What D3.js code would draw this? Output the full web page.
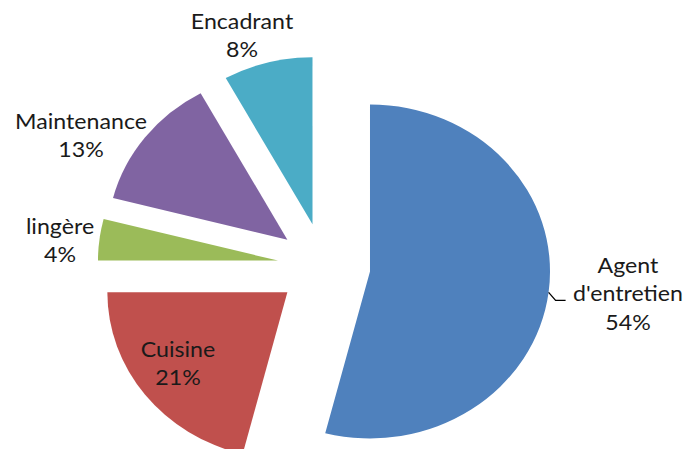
<!DOCTYPE html>
<html>
<head>
<meta charset="utf-8">
<script src="https://cdn.jsdelivr.net/npm/d3@7.9.0/dist/d3.min.js"></script>
<style>
  html, body { margin: 0; padding: 0; background: #fff; }
  svg { display: block; }
  text { font-family: Lato, "Open Sans", sans-serif; fill: #1a1a1a; }
</style>
</head>
<body>
<svg id="chart" width="688" height="449"></svg>
<script>
// data
const categories = ["Agent d'entretien", "Cuisine", "lingère", "Maintenance", "Encadrant"];
const values = [54, 21, 4, 13, 8];
const labelLines = [["Agent", "d'entretien"], ["Cuisine"], ["lingère"], ["Maintenance"], ["Encadrant"]];
const colors = ["#4F81BD", "#C0504D", "#9BBB59", "#8064A2", "#4BACC6"];

// layout (the source picture is stretched a bit horizontally)
const stretchX = 1.078;
const cx = 324, cy = 266;
const radius = 167;
const explode = 43;
const lineH = 28.5;
// label anchors: centre x, first baseline
const labelAt = {
  "Agent d'entretien": [628, 273],
  "Cuisine": [178, 357],
  "lingère": [60, 234],
  "Maintenance": [81, 129],
  "Encadrant": [242, 28.5]
};

const svg = d3.select("#chart");

const pie = d3.pie().sort(null).value(d => d.value);
const arc = d3.arc().innerRadius(0).outerRadius(radius);

const data = categories.map((c, i) => ({ label: c, value: values[i], color: colors[i], lines: labelLines[i] }));
const arcs = pie(data);

const g = svg.append("g")
  .attr("transform", `translate(${cx},${cy}) scale(${stretchX},1)`);

// exploded slices
arcs.forEach(a => {
  const mid = (a.startAngle + a.endAngle) / 2;
  const dx = Math.sin(mid) * explode, dy = -Math.cos(mid) * explode;
  g.append("path")
    .attr("d", arc(a))
    .attr("transform", `translate(${dx},${dy})`)
    .attr("fill", a.data.color);
});

// leader line for the big slice
const big = arcs[0];
const bm = (big.startAngle + big.endAngle) / 2;
const sx = cx + stretchX * Math.sin(bm) * (explode + radius);
const sy = cy - Math.cos(bm) * (explode + radius);
svg.append("path")
  .attr("d", `M${sx},${sy} L${sx + 7},${sy + 8} L${sx + 17},${sy + 8}`)
  .attr("fill", "none")
  .attr("stroke", "#000")
  .attr("stroke-width", 1.3);

// labels
arcs.forEach(a => {
  const [lx, ly] = labelAt[a.data.label];
  const lines = a.data.lines.concat([a.data.value + "%"]);
  const t = svg.append("text")
    .attr("transform", `translate(${lx},${ly}) scale(${stretchX},1)`)
    .attr("text-anchor", "middle")
    .style("font-size", "21.5px");
  lines.forEach((s, i) => {
    t.append("tspan").attr("x", 0).attr("y", i * lineH).text(s);
  });
});
</script>
</body>
</html>
